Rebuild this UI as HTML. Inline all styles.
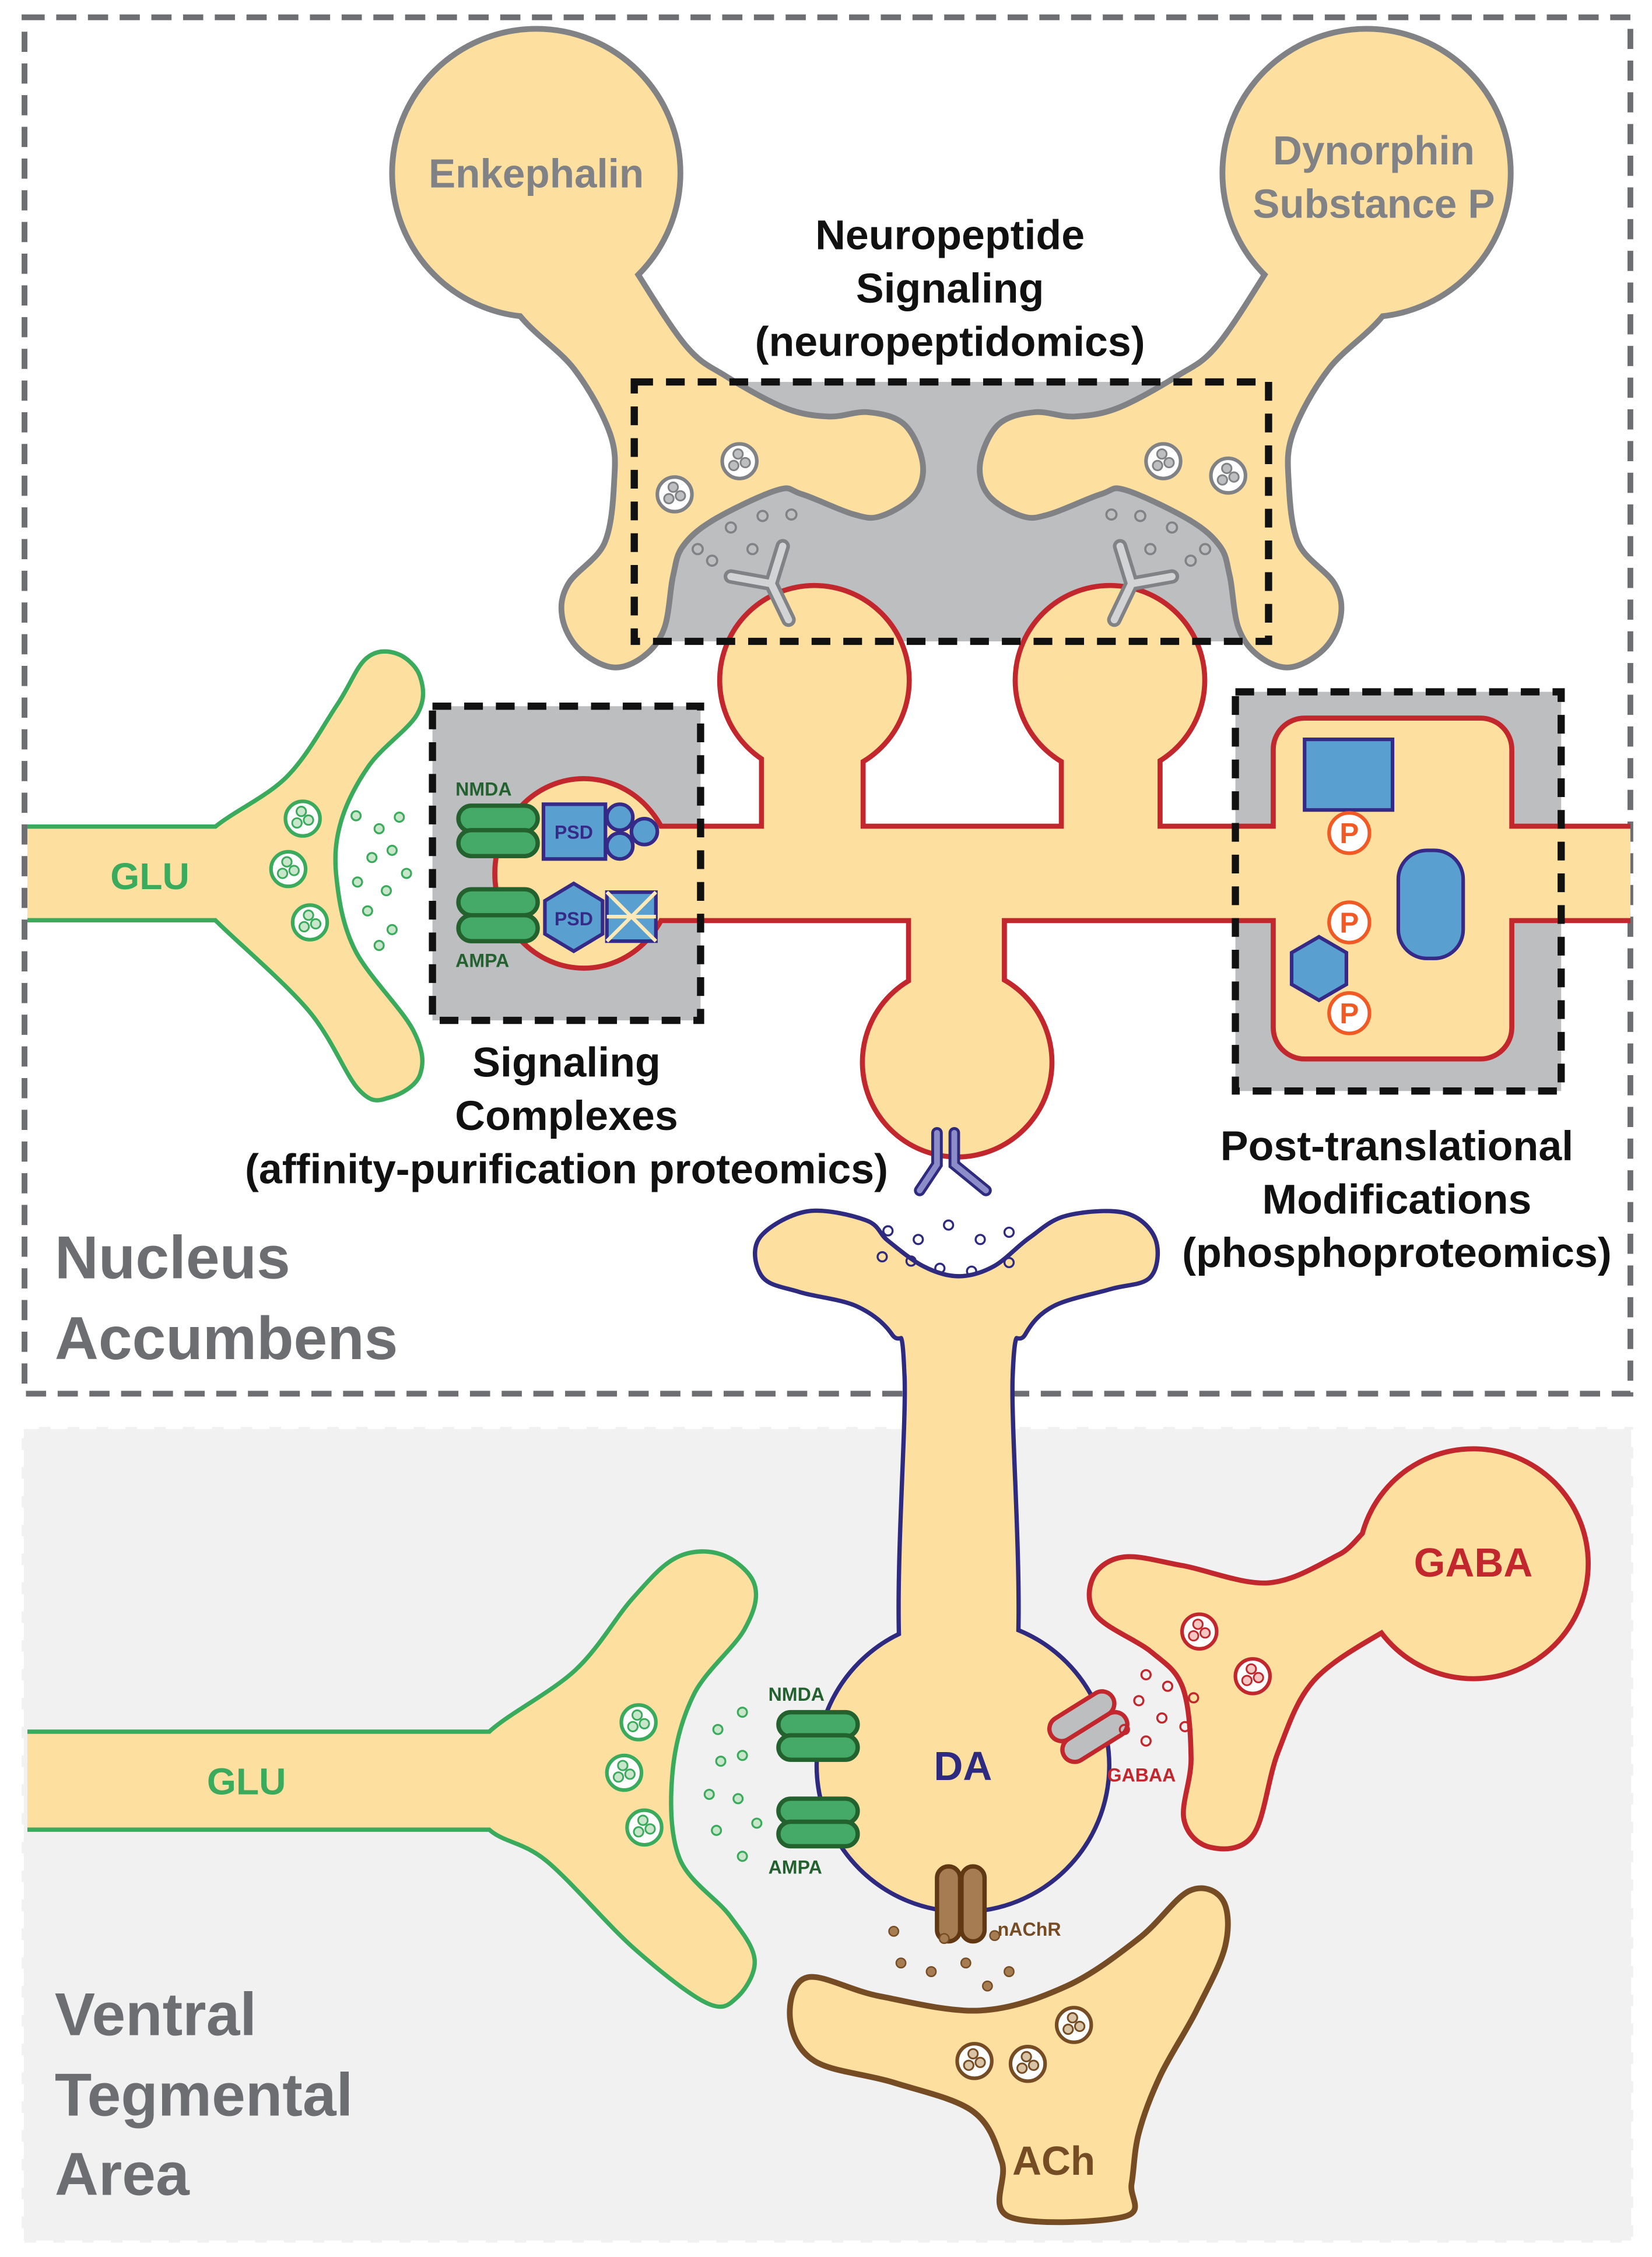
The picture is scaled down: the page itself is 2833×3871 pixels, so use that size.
<!DOCTYPE html>
<html><head><meta charset="utf-8"><style>
html,body{margin:0;padding:0;background:#fff;}
svg{display:block;}
text{font-family:"Liberation Sans",sans-serif;font-weight:bold;}
</style></head><body>
<svg id="s" xmlns="http://www.w3.org/2000/svg" width="2833" height="3871" viewBox="0 0 1146 1566" preserveAspectRatio="none">
<defs>
<clipPath id="cl"><rect x="19" y="0" width="1112" height="1566"/></clipPath>
<g id="enk"><circle cx="372" cy="120" r="98"/><path id="enkb"/></g>
<g id="den">
 <rect x="400" y="575" width="740" height="62"/>
 <ellipse cx="405" cy="606" rx="60" ry="64"/>
 <circle cx="565" cy="472" r="64"/><rect x="530" y="470" width="67" height="110"/>
 <circle cx="770" cy="472" r="64"/><rect x="738" y="470" width="65" height="110"/>
 <rect x="632" y="630" width="63" height="80"/><circle cx="664" cy="737" r="64"/>
 <rect x="885" y="500" width="162" height="233" rx="20"/>
</g>
<g id="glu1"><rect x="10" y="575" width="150" height="62"/><path id="glu1b"/></g>
<g id="glu2"><rect x="10" y="1203" width="350" height="65"/><path id="glu2b"/></g>
<g id="da"><circle cx="668" cy="1225" r="100"/><path id="dab"/></g>
<g id="gaba"><circle cx="1022" cy="1085" r="78"/><path id="gabab"/></g>
<g id="ach"><path id="achb"/></g>
</defs>

<rect x="17" y="12" width="1114" height="955" fill="#fff" stroke="#6d6e71" stroke-width="4" stroke-dasharray="14 8"/>
<rect x="15" y="990" width="1118" height="566" fill="#f1f1f2" stroke="#fff" stroke-width="3" stroke-dasharray="12 8"/>

<rect x="440" y="265" width="440" height="180" fill="#bcbec0"/>
<rect x="300" y="490" width="186" height="218" fill="#bcbec0"/>
<rect x="857" y="480" width="226" height="277" fill="#bcbec0"/>

<use href="#enk" fill="#fddf9f" stroke="#808285" stroke-width="8"/>
<use href="#enk" fill="#fddf9f" stroke="none"/>
<g transform="translate(1320,0) scale(-1,1)">
<use href="#enk" fill="#fddf9f" stroke="#808285" stroke-width="8"/>
<use href="#enk" fill="#fddf9f" stroke="none"/>
</g>

<g clip-path="url(#cl)">
<use href="#den" fill="#fddf9f" stroke="#c1272d" stroke-width="7"/>
<use href="#den" fill="#fddf9f" stroke="none"/>
<use href="#glu1" fill="#fddf9f" stroke="#3aaa5c" stroke-width="6"/>
<use href="#glu1" fill="#fddf9f" stroke="none"/>
<use href="#glu2" fill="#fddf9f" stroke="#3aaa5c" stroke-width="6"/>
<use href="#glu2" fill="#fddf9f" stroke="none"/>
</g>
<use href="#da" fill="#fddf9f" stroke="#2e2a80" stroke-width="6"/>
<use href="#da" fill="#fddf9f" stroke="none"/>
<use href="#gaba" fill="#fddf9f" stroke="#c1272d" stroke-width="7"/>
<use href="#gaba" fill="#fddf9f" stroke="none"/>
<use href="#ach" fill="#fddf9f" stroke="#754c24" stroke-width="4"/>

<g stroke-linecap="round" fill="none">
 <path d="M507,400 L535,405 L547,430 M543,379 L535,405" stroke="#808285" stroke-width="10"/>
 <path d="M507,400 L535,405 L547,430 M543,379 L535,405" stroke="#d1d3d4" stroke-width="5"/>
</g>
<g transform="translate(1320,0) scale(-1,1)" stroke-linecap="round" fill="none">
 <path d="M507,400 L535,405 L547,430 M543,379 L535,405" stroke="#808285" stroke-width="10"/>
 <path d="M507,400 L535,405 L547,430 M543,379 L535,405" stroke="#d1d3d4" stroke-width="5"/>
</g>
<g stroke-linecap="round" fill="none">
 <path d="M650,786 L650,808 L638,826 M662,786 L662,808 L684,826" stroke="#2e2a80" stroke-width="8"/>
 <path d="M650,786 L650,808 L638,826 M662,786 L662,808 L684,826" stroke="#8c8dc8" stroke-width="4"/>
</g>

<g fill="#45aa67" stroke="#23612f" stroke-width="3">
 <rect x="318" y="559" width="55" height="18" rx="9"/><rect x="318" y="576" width="55" height="18" rx="9"/>
 <rect x="318" y="617" width="55" height="18" rx="9"/><rect x="318" y="635" width="55" height="18" rx="9"/>
 <rect x="540" y="1188" width="55" height="17" rx="8.5"/><rect x="540" y="1204" width="55" height="17" rx="8.5"/>
 <rect x="540" y="1248" width="55" height="17" rx="8.5"/><rect x="540" y="1264" width="55" height="17" rx="8.5"/>
</g>
<g fill="#23612f" font-size="13">
 <text x="316" y="552">NMDA</text><text x="316" y="671">AMPA</text>
 <text x="533" y="1180">NMDA</text><text x="533" y="1300">AMPA</text>
</g>
<g fill="#59a0d0" stroke="#352a87" stroke-width="2.5">
 <rect x="377" y="558" width="43" height="38"/>
 <circle cx="430" cy="567" r="9"/><circle cx="447" cy="577" r="9"/><circle cx="430" cy="587" r="9"/>
 <polygon points="398,613 418,625 418,648 398,660 378,648 378,625"/>
 <rect x="421" y="619" width="34" height="34"/>
 <rect x="905" y="513" width="61" height="49"/>
 <rect x="970" y="590" width="45" height="75" rx="20"/>
 <polygon points="915,650 934,661 934,683 915,694 896,683 896,661"/>
</g>
<path d="M421,619 L455,653 M455,619 L421,653 M421,636 L455,636" stroke="#fde9b8" stroke-width="2.5"/>
<g fill="#352a87" font-size="13"><text x="398" y="582" text-anchor="middle">PSD</text><text x="398" y="642" text-anchor="middle">PSD</text></g>
<g fill="#fff" stroke="#f15a24" stroke-width="2.5">
 <circle cx="936" cy="578" r="14"/><circle cx="936" cy="640" r="14"/><circle cx="936" cy="703" r="14"/>
</g>
<g fill="#f15a24" font-size="20" text-anchor="middle"><text x="936" y="585">P</text><text x="936" y="647">P</text><text x="936" y="710">P</text></g>

<g transform="rotate(-32 755 1198)" fill="#bcbec0" stroke="#c1272d" stroke-width="3">
 <rect x="730" y="1181" width="50" height="17" rx="8.5"/><rect x="730" y="1198" width="50" height="17" rx="8.5"/>
</g>
<text x="768" y="1236" fill="#c1272d" font-size="13">GABAA</text>
<g fill="#a67c52" stroke="#603813" stroke-width="3">
 <rect x="650" y="1295" width="16" height="52" rx="8"/><rect x="667" y="1295" width="16" height="52" rx="8"/>
</g>
<text x="692" y="1343" fill="#754c24" font-size="13">nAChR</text>

<g id="ves"></g>

<g fill="none" stroke="#111" stroke-width="5" stroke-dasharray="13 9">
 <rect x="440" y="265" width="440" height="180"/>
 <rect x="300" y="490" width="186" height="218"/>
 <rect x="857" y="480" width="226" height="277"/>
</g>

<g fill="#808285" font-size="28" text-anchor="middle">
 <text x="372" y="130">Enkephalin</text>
 <text x="953" y="114">Dynorphin</text><text x="953" y="151">Substance P</text>
</g>
<g fill="#111" font-size="29" text-anchor="middle">
 <text x="659" y="173">Neuropeptide</text><text x="659" y="210">Signaling</text><text x="659" y="247">(neuropeptidomics)</text>
 <text x="393" y="747">Signaling</text><text x="393" y="784">Complexes</text><text x="393" y="821">(affinity-purification proteomics)</text>
 <text x="969" y="805">Post-translational</text><text x="969" y="842">Modifications</text><text x="969" y="879">(phosphoproteomics)</text>
</g>
<g fill="#6d6e71" font-size="42">
 <text x="38" y="887">Nucleus</text><text x="38" y="943">Accumbens</text>
 <text x="38" y="1412">Ventral</text><text x="38" y="1468">Tegmental</text><text x="38" y="1523">Area</text>
</g>
<g font-size="26" text-anchor="middle">
 <text x="104" y="617" fill="#3aaa5c">GLU</text>
 <text x="171" y="1245" fill="#3aaa5c">GLU</text>
 <text x="668" y="1235" fill="#2e2a80" font-size="28">DA</text>
 <text x="1022" y="1094" fill="#c1272d" font-size="28">GABA</text>
 <text x="731" y="1509" fill="#754c24" font-size="28">ACh</text>
</g>
</svg>
<script>
function cr(p){var n=p.length,d="M"+p[0][0]+","+p[0][1];
for(var i=0;i<n;i++){var p0=p[(i-1+n)%n],p1=p[i],p2=p[(i+1)%n],p3=p[(i+2)%n];
var c1=[p1[0]+(p2[0]-p0[0])/6,p1[1]+(p2[1]-p0[1])/6],c2=[p2[0]-(p3[0]-p1[0])/6,p2[1]-(p3[1]-p1[1])/6];
d+="C"+c1[0].toFixed(1)+","+c1[1].toFixed(1)+" "+c2[0].toFixed(1)+","+c2[1].toFixed(1)+" "+p2[0]+","+p2[1];}
return d+"Z";}
function set(id,p){document.getElementById(id).setAttribute("d",cr(p));}
set("enkb",[[330,160],[410,140],[440,190],[475,242],[503,263],[544,285],[575,291],[602,288],[626,296],[638,321],[633,342],[611,356],[593,355],[557,341],[539,338],[494,359],[472,378],[465,399],[459,435],[445,454],[425,461],[403,449],[392,428],[396,406],[421,378],[428,335],[425,300],[400,255],[360,215]]);
set("glu1b",[[150,575],[200,540],[235,490],[255,458],[275,455],[290,470],[288,495],[255,530],[235,570],[232,610],[245,660],[285,715],[290,745],[270,760],[250,755],[215,700],[150,637],[120,606]]);
set("glu2b",[[340,1203],[400,1160],[440,1110],[470,1082],[500,1080],[522,1100],[515,1130],[480,1175],[465,1230],[470,1290],[505,1330],[522,1360],[510,1385],[490,1388],[440,1350],[380,1290],[340,1268],[320,1235]]);
set("dab",[[560,842],[600,848],[615,862],[640,880],[665,887],[690,880],[715,860],[740,845],[780,843],[800,860],[797,885],[770,893],[730,905],[710,925],[701,955],[700,1180],[630,1180],[629,955],[620,925],[595,905],[555,895],[530,885],[528,860]]);
set("gabab",[[960,1060],[930,1080],[880,1100],[820,1088],[780,1082],[760,1095],[762,1120],[800,1145],[822,1170],[828,1220],[823,1262],[840,1280],[868,1272],[885,1215],[910,1165],[960,1130],[985,1120]]);
set("achb",[[560,1372],[610,1385],[680,1395],[740,1378],[790,1345],[825,1312],[848,1318],[850,1350],[830,1395],[805,1440],[790,1480],[785,1515],[780,1538],[700,1538],[695,1500],[675,1465],[620,1445],[565,1430],[548,1400]]);
var NS="http://www.w3.org/2000/svg",g=document.getElementById("ves");
function c(x,y,r,f,s,w){var e=document.createElementNS(NS,"circle");e.setAttribute("cx",x);e.setAttribute("cy",y);e.setAttribute("r",r);e.setAttribute("fill",f);e.setAttribute("stroke",s);e.setAttribute("stroke-width",w);g.appendChild(e);}
function v(x,y,s,inner){c(x,y,12,"#fff",s,2.5);c(x-1,y-5,3.3,inner,s,1.2);c(x+4,y+1,3.3,inner,s,1.2);c(x-4,y+3,3.3,inner,s,1.2);}
[[468,343],[513,320],[852,330],[807,320]].forEach(function(p){v(p[0],p[1],"#808285","#bcbec0");});
[[210,568],[200,603],[215,640],[443,1195],[433,1230],[447,1268]].forEach(function(p){v(p[0],p[1],"#3aaa5c","#c8e6c9");});
[[832,1132],[869,1163]].forEach(function(p){v(p[0],p[1],"#c1272d","#f4c7c3");});
[[676,1430],[713,1432],[745,1405]].forEach(function(p){v(p[0],p[1],"#754c24","#d9c3a5");});
[[484,381],[494,389],[507,366],[522,381],[529,358],[549,357]].forEach(function(p){c(p[0],p[1],3.5,"none","#808285",1.5);c(1320-p[0],p[1],3.5,"none","#808285",1.5);});
[[247,566],[263,575],[277,567],[258,595],[272,590],[248,612],[268,618],[282,606],[255,632],[272,645],[263,656]].forEach(function(p){c(p[0],p[1],3.2,"#c8e6c9","#3aaa5c",1.3);});
[[498,1200],[515,1188],[500,1222],[515,1218],[492,1245],[512,1248],[497,1270],[515,1288],[525,1265]].forEach(function(p){c(p[0],p[1],3.2,"#c8e6c9","#3aaa5c",1.3);});
[[616,854],[637,860],[658,850],[680,860],[700,855],[612,872],[632,875],[652,880],[674,882],[700,876]].forEach(function(p){c(p[0],p[1],3.2,"none","#2e2a80",1.4);});
[[795,1162],[810,1170],[828,1178],[790,1180],[806,1192],[822,1198],[780,1200],[795,1208]].forEach(function(p){c(p[0],p[1],3.2,"none","#c1272d",1.4);});
[[620,1340],[655,1345],[690,1343],[625,1362],[646,1368],[670,1362],[700,1368],[685,1378]].forEach(function(p){c(p[0],p[1],3.3,"#a67c52","#754c24",1);});
</script>
</body></html>
